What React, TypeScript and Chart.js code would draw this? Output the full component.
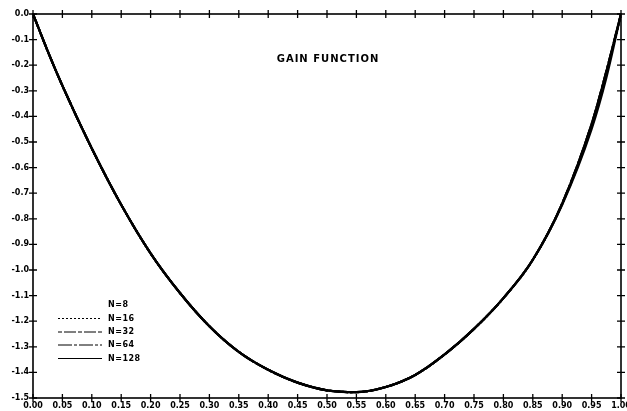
import React, { useEffect, useRef } from "react";
import { Chart, registerables } from "chart.js";

Chart.register(...registerables);

const X_VALUES = [0, 0.025, 0.05, 0.1, 0.15, 0.2, 0.25, 0.3, 0.35, 0.4, 0.45, 0.5, 0.55, 0.6, 0.65, 0.7, 0.75, 0.8, 0.85, 0.9, 0.95, 0.975, 1.0];
const N8 = [0, -0.145, -0.28, -0.525, -0.745, -0.935, -1.09, -1.22, -1.32, -1.39, -1.44, -1.47, -1.477, -1.457, -1.41, -1.33, -1.23, -1.11, -0.96, -0.745, -0.45, -0.25, 0];
const N16 = [0, -0.145, -0.28, -0.525, -0.745, -0.935, -1.09, -1.22, -1.32, -1.39, -1.44, -1.47, -1.477, -1.457, -1.41, -1.33, -1.23, -1.11, -0.96, -0.742, -0.44, -0.235, 0];
const N32 = [0, -0.145, -0.28, -0.525, -0.745, -0.935, -1.09, -1.22, -1.32, -1.39, -1.44, -1.47, -1.477, -1.457, -1.41, -1.33, -1.23, -1.11, -0.96, -0.74, -0.43, -0.225, 0];
const N64 = [0, -0.145, -0.28, -0.525, -0.745, -0.935, -1.09, -1.22, -1.32, -1.39, -1.44, -1.47, -1.477, -1.457, -1.41, -1.33, -1.23, -1.11, -0.96, -0.74, -0.43, -0.225, 0];
const N128 = [0, -0.145, -0.28, -0.525, -0.745, -0.935, -1.09, -1.22, -1.32, -1.39, -1.44, -1.47, -1.477, -1.457, -1.41, -1.33, -1.23, -1.11, -0.96, -0.74, -0.43, -0.225, 0];

const SERIES_LABELS = ["N=8", "N=16", "N=32", "N=64", "N=128"];
const SERIES_VALUES = [N8, N16, N32, N64, N128];
const SERIES_DASH: number[][] = [[], [2, 2], [4, 2, 12, 2], [14, 2, 3, 2], []];
const LEGEND_SHOW_LINE = [false, true, true, true, true];

const TITLE = "GAIN FUNCTION";
const X_MIN = 0;
const X_MAX = 1;
const X_STEP = 0.05;
const Y_MIN = -1.5;
const Y_MAX = 0;
const Y_STEP = 0.1;

const FONT = "DejaVu Sans";

const overlayPlugin = {
  id: "overlay",
  afterDraw(chart: any) {
    const ctx = chart.ctx;
    const { left, right, top, bottom } = chart.chartArea;
    const xs = chart.scales.x;
    const ys = chart.scales.y;
    ctx.save();
    ctx.strokeStyle = "#000";
    ctx.lineWidth = 1.6;
    ctx.strokeRect(left, top, right - left, bottom - top);
    ctx.lineWidth = 1.3;
    ctx.beginPath();
    xs.ticks.forEach((t: any) => {
      const px = xs.getPixelForValue(t.value);
      ctx.moveTo(px, top - 4);
      ctx.lineTo(px, top + 4);
      ctx.moveTo(px, bottom - 4);
      ctx.lineTo(px, bottom + 4);
    });
    ys.ticks.forEach((t: any) => {
      const py = ys.getPixelForValue(t.value);
      ctx.moveTo(left - 4, py);
      ctx.lineTo(left + 4, py);
      ctx.moveTo(right - 4, py);
      ctx.lineTo(right + 4, py);
    });
    ctx.stroke();

    // title
    ctx.fillStyle = "#000";
    ctx.font = `bold 10px "${FONT}"`;
    (ctx as any).letterSpacing = "1px";
    ctx.textAlign = "center";
    ctx.textBaseline = "middle";
    ctx.fillText(TITLE, (left + right) / 2 + 1, 59);

    // legend
    (ctx as any).letterSpacing = "0.5px";
    ctx.font = `bold 8px "${FONT}"`;
    ctx.textAlign = "left";
    const rowY = [305, 318.5, 332, 345, 358.5];
    SERIES_LABELS.forEach((lab, i) => {
      const y = rowY[i];
      if (LEGEND_SHOW_LINE[i]) {
        ctx.beginPath();
        ctx.lineWidth = 1;
        ctx.setLineDash(SERIES_DASH[i]);
        ctx.moveTo(58, y);
        ctx.lineTo(102, y);
        ctx.stroke();
        ctx.setLineDash([]);
      }
      ctx.fillText(lab, 108, y);
    });
    ctx.restore();
  },
};

export default function App() {
  const ref = useRef<HTMLCanvasElement | null>(null);
  useEffect(() => {
    if (!ref.current) return;
    const datasets = SERIES_LABELS.map((lab, i) => ({
      label: lab,
      data: X_VALUES.map((x, j) => ({ x, y: SERIES_VALUES[i][j] })),
      borderColor: "#000",
      borderWidth: 2.2,
      borderDash: SERIES_DASH[i],
      pointRadius: 0,
      fill: false,
      cubicInterpolationMode: "monotone" as const,
    }));
    const chart = new Chart(ref.current, {
      type: "line",
      data: { datasets },
      options: {
        responsive: false,
        animation: false,
        layout: { padding: { left: 0, right: 6, top: 14, bottom: 0 } },
        plugins: { legend: { display: false }, tooltip: { enabled: false }, title: { display: false } },
        scales: {
          x: {
            type: "linear",
            min: X_MIN,
            max: X_MAX,
            grid: { display: false, drawTicks: false },
            border: { display: false },
            ticks: {
              stepSize: X_STEP,
              autoSkip: false,
              maxRotation: 0,
              padding: 3,
              color: "#000",
              font: { family: FONT, size: 8, weight: "bold" },
              callback: (v: any) => Number(v).toFixed(2),
            },
            afterFit: (s: any) => {
              s.height = 13;
              s.paddingLeft = 0;
              s.paddingRight = 0;
            },
          },
          y: {
            type: "linear",
            min: Y_MIN,
            max: Y_MAX,
            grid: { display: false, drawTicks: false },
            border: { display: false },
            ticks: {
              stepSize: Y_STEP,
              autoSkip: false,
              padding: 4,
              color: "#000",
              font: { family: FONT, size: 8, weight: "bold" },
              callback: (v: any) => Number(v).toFixed(1),
            },
            afterFit: (s: any) => {
              s.width = 33;
              s.paddingTop = 0;
              s.paddingBottom = 0;
            },
          },
        },
      },
      plugins: [overlayPlugin],
    });
    return () => chart.destroy();
  }, []);
  return (
    <div style={{ position: "fixed", left: 0, top: 0, width: 627, height: 411, background: "#fff" }}>
      <canvas ref={ref} width={627} height={411} style={{ display: "block" }} />
    </div>
  );
}
